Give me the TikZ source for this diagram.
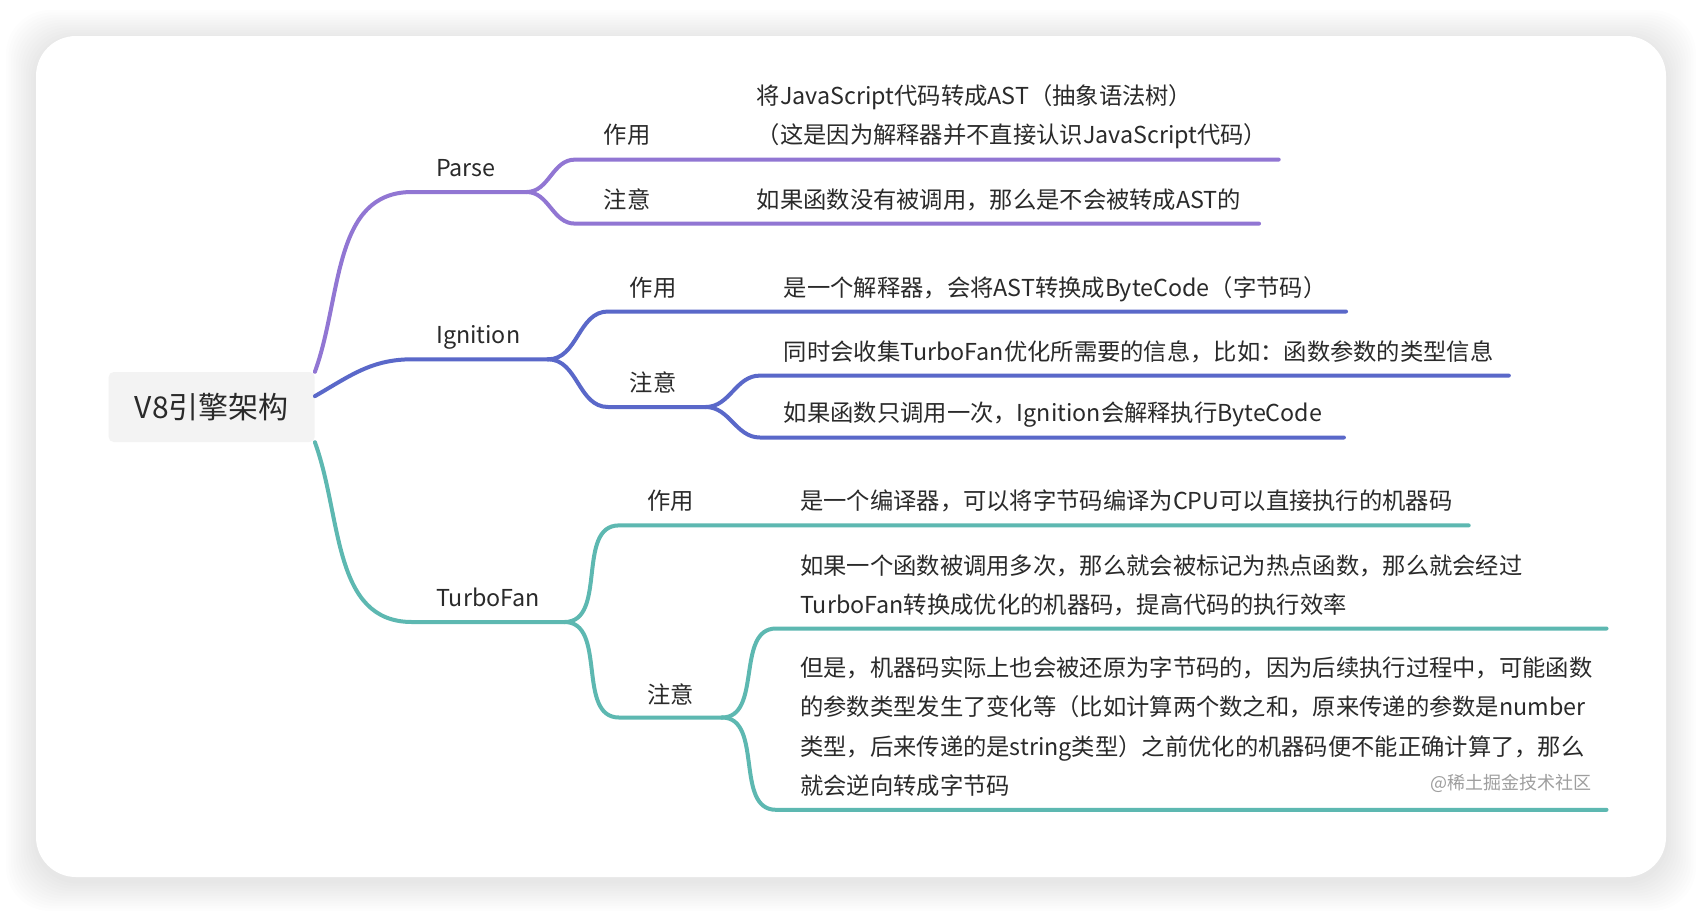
\documentclass[tikz,border=0pt]{standalone}
\usepackage{fontspec}
\setmainfont{Noto Sans CJK SC}
\usepackage{xcolor}
\usepackage{tikz}
\usetikzlibrary{positioning, calc}
\definecolor{parsec}{HTML}{9176D3}
\definecolor{ignc}{HTML}{5A68C9}
\definecolor{turboc}{HTML}{5DB8B1}
\definecolor{inkc}{HTML}{2A2A2A}
\definecolor{rootfill}{HTML}{F3F3F3}

\begin{document}
\begin{tikzpicture}[x=1pt, y=1pt,
    lbl/.style={anchor=base west, inner sep=0pt, text=inkc, font=\fontsize{23.3pt}{39.5pt}\selectfont},
    rootbox/.style={fill=rootfill, rounded corners=5pt, minimum width=206pt, minimum height=70pt, text=inkc, font=\fontsize{30pt}{36pt}\selectfont},
    wmark/.style={anchor=base east, inner sep=0pt, text=black!38, font=\fontsize{18pt}{20pt}\selectfont},
    branch/.style={line width=4pt, line cap=round},
    parseline/.style={branch, draw=parsec},
    ignline/.style={branch, draw=ignc},
    turboline/.style={branch, draw=turboc}]
    \useasboundingbox (0,0) rectangle (1702,-914);
    \fill[white] (0,0) rectangle (1702,-914);
    % card with soft shadow
    \foreach \s in {1,...,12}
        \fill[black, opacity=0.008, rounded corners=44pt] (36-\s*2.5,-36+\s*2.5-4) rectangle (1666+\s*2.5,-877-\s*2.5-4);
    \fill[white, rounded corners=40pt] (36,-36) rectangle (1666,-877);

    \node[rootbox] (root) at (211.7,-407) {V8引擎架构};

    % Parse
    \node[lbl] (parse) at (436,-176) {Parse};
    \node[lbl] (parse-use) at (603.5,-143.6) {作用};
    \node[lbl] (parse-note) at (603.5,-208.7) {注意};
    \node[lbl, align=left] (parse-use-txt) at (756.6,-143.6) {将JavaScript代码转成AST（抽象语法树）\\（这是因为解释器并不直接认识JavaScript代码）};
    \node[lbl] (parse-note-txt) at (756.6,-208.7) {如果函数没有被调用，那么是不会被转成AST的};
    \coordinate (parse-in) at (412,-192);
    \coordinate (parse-fork) at (526.5,-192);
    \coordinate (parse-use-in) at (575,-159.6);
    \coordinate (parse-use-end) at (1278.7,-159.6);
    \coordinate (parse-note-in) at (575,-223.6);
    \coordinate (parse-note-end) at (1259,-223.6);
    \draw[parseline] (root.north east) to[out=70, in=180] (parse-in) -- (parse-fork);
    \draw[parseline] (parse-fork) to[out=0, in=180] (parse-use-in) -- (parse-use-end);
    \draw[parseline] (parse-fork) to[out=0, in=180] (parse-note-in) -- (parse-note-end);

    % Ignition
    \node[lbl] (ign) at (436,-343.3) {Ignition};
    \node[lbl] (ign-use) at (629.6,-296.7) {作用};
    \node[lbl] (ign-note) at (629.6,-391) {注意};
    \node[lbl] (ign-use-txt) at (783.7,-296.7) {是一个解释器，会将AST转换成ByteCode（字节码）};
    \node[lbl] (ign-note-txt1) at (783.7,-360.7) {同时会收集TurboFan优化所需要的信息，比如：函数参数的类型信息};
    \node[lbl] (ign-note-txt2) at (783.7,-421.5) {如果函数只调用一次，Ignition会解释执行ByteCode};
    \coordinate (ign-in) at (412,-359.3);
    \coordinate (ign-fork) at (548,-359.3);
    \coordinate (ign-use-in) at (608,-311.5);
    \coordinate (ign-use-end) at (1346,-311.5);
    \coordinate (ign-note-in) at (608,-407);
    \coordinate (ign-note-fork) at (705.6,-407);
    \coordinate (ign-sub1-in) at (760,-375.6);
    \coordinate (ign-sub1-end) at (1508.8,-375.6);
    \coordinate (ign-sub2-in) at (760,-437.5);
    \coordinate (ign-sub2-end) at (1343.9,-437.5);
    \draw[ignline] (root.6) to[out=30, in=180] (ign-in) -- (ign-fork);
    \draw[ignline] (ign-fork) to[out=0, in=180] (ign-use-in) -- (ign-use-end);
    \draw[ignline] (ign-fork) to[out=0, in=180] (ign-note-in) -- (ign-note-fork);
    \draw[ignline] (ign-note-fork) to[out=0, in=180] (ign-sub1-in) -- (ign-sub1-end);
    \draw[ignline] (ign-note-fork) to[out=0, in=180] (ign-sub2-in) -- (ign-sub2-end);

    % TurboFan
    \node[lbl] (turbo) at (436,-606) {TurboFan};
    \node[lbl] (turbo-use) at (647,-509.4) {作用};
    \node[lbl] (turbo-note) at (647,-703.7) {注意};
    \node[lbl] (turbo-use-txt) at (800,-509.4) {是一个编译器，可以将字节码编译为CPU可以直接执行的机器码};
    \node[lbl, align=left] (turbo-note-txt1) at (800,-613.6) {如果一个函数被调用多次，那么就会被标记为热点函数，那么就会经过\\TurboFan转换成优化的机器码，提高代码的执行效率};
    \node[lbl, align=left] (turbo-note-txt2) at (800,-794.9) {但是，机器码实际上也会被还原为字节码的，因为后续执行过程中，可能函数\\的参数类型发生了变化等（比如计算两个数之和，原来传递的参数是number\\类型，后来传递的是string类型）之前优化的机器码便不能正确计算了，那么\\就会逆向转成字节码};
    \node[wmark] (credit) at (1592,-789) {@稀土掘金技术社区};
    \coordinate (turbo-in) at (412,-622);
    \coordinate (turbo-fork) at (564.5,-622);
    \coordinate (turbo-use-in) at (619,-525.4);
    \coordinate (turbo-use-end) at (1468.7,-525.4);
    \coordinate (turbo-note-in) at (619,-717.5);
    \coordinate (turbo-note-fork) at (721.9,-717.5);
    \coordinate (turbo-sub1-in) at (776,-628.5);
    \coordinate (turbo-sub1-end) at (1606.5,-628.5);
    \coordinate (turbo-sub2-in) at (776,-809.8);
    \coordinate (turbo-sub2-end) at (1606.5,-809.8);
    \draw[turboline] (root.south east) to[out=-70, in=180] (turbo-in) -- (turbo-fork);
    \draw[turboline] (turbo-fork) to[out=0, in=180] (turbo-use-in) -- (turbo-use-end);
    \draw[turboline] (turbo-fork) to[out=0, in=180] (turbo-note-in) -- (turbo-note-fork);
    \draw[turboline] (turbo-note-fork) to[out=0, in=180] (turbo-sub1-in) -- (turbo-sub1-end);
    \draw[turboline] (turbo-note-fork) to[out=0, in=180] (turbo-sub2-in) -- (turbo-sub2-end);
\end{tikzpicture}
\end{document}
